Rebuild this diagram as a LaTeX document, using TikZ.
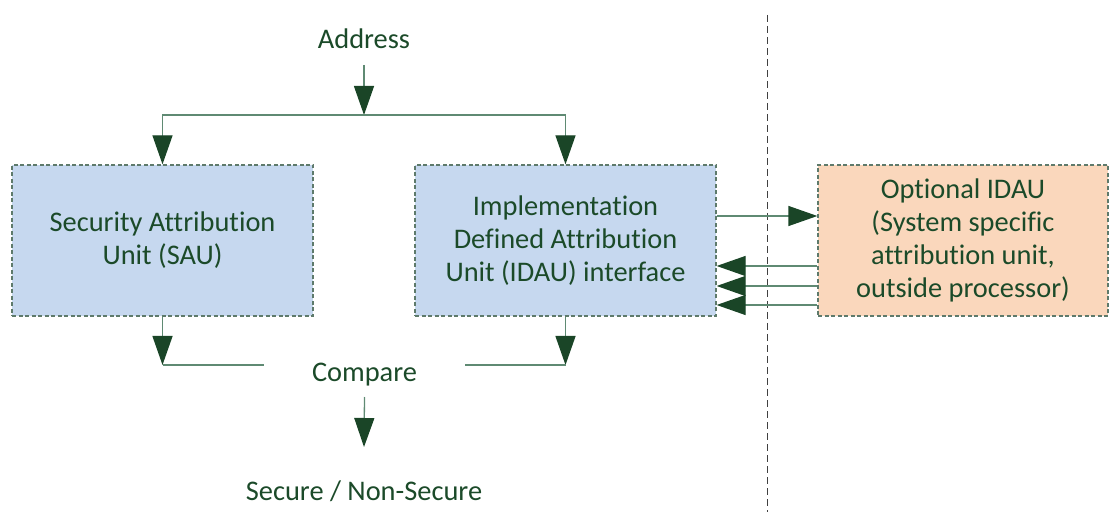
\documentclass[tikz,border=0pt]{standalone}
\usepackage{fontspec}
\setmainfont{Carlito}[Ligatures=NoCommon]
\usetikzlibrary{arrows.meta}
\definecolor{txtgreen}{HTML}{1B4A29}
\definecolor{tipgreen}{HTML}{1A4527}
\definecolor{linegreen}{HTML}{5F8A73}
\definecolor{boxedge}{HTML}{5E7A6B}
\definecolor{saublue}{HTML}{C6D8EF}
\definecolor{idauorange}{HTML}{FAD7BC}
\tikzset{
  lbl/.style={text=txtgreen, font=\fontsize{28.4}{33}\selectfont, inner sep=0pt},
  unitbox/.style={draw=boxedge, line width=1.3pt, dash pattern=on 4pt off 2.5pt,
    minimum height=151pt, align=center, text=txtgreen,
    font=\fontsize{28.4}{33}\selectfont, inner sep=0pt},
  flow/.style={draw=linegreen, line width=1.3pt,
    -{Triangle[length=29pt,width=20pt,color=tipgreen,fill=tipgreen]}},
  plain/.style={draw=linegreen, line width=1.3pt},
  divider/.style={draw=black!75, line width=1pt, dash pattern=on 7pt off 4pt}
}
\begin{document}
\begin{tikzpicture}[x=1pt,y=1pt]
\useasboundingbox (0,0) rectangle (1109,512);

% labels
\node[lbl, anchor=base] (addr) at (364,463) {Address};
\node[lbl, anchor=base] (cmp) at (364.5,131) {Compare};
\node[lbl, anchor=base] (sec) at (364,12) {Secure / Non-Secure};

% attribution units
\node[unitbox, fill=saublue, minimum width=301pt] (sau) at (162.5,271.5)
  {Security Attribution\\Unit (SAU)};
\node[unitbox, fill=saublue, minimum width=301pt] (idau) at (565.5,271.5)
  {Implementation\\Defined Attribution\\Unit (IDAU) interface};
\node[unitbox, fill=idauorange, minimum width=290pt] (opt) at (963,271.5)
  {Optional IDAU\\(System specific\\attribution unit,\\outside processor)};

% processor boundary
\coordinate (divtop) at (767,497);
\coordinate (divbot) at (767,0);
\draw[divider] (divtop) -- (divbot);

% address fan-out
\coordinate (split) at (364,397);
\draw[flow] ([yshift=-16pt]addr.base) -- (split);
\draw[flow] (split) -| (sau.north);
\draw[flow] (split) -| (idau.north);

% results into compare
\coordinate (lc) at (162.5,147);
\coordinate (rc) at (565.5,147);
\draw[flow] (sau.south) -- (lc);
\draw[flow] (idau.south) -- (rc);
\draw[plain] (lc) -- (264,147 |- lc);
\draw[plain] (rc) -- (465,147 |- rc);

% compare to result
\draw[flow] ([yshift=-16pt]cmp.base) -- ([yshift=53pt]sec.base);

% external IDAU interface
\draw[flow] ([yshift=24.5pt]idau.east) -- ([yshift=24.5pt]opt.west);
\draw[flow] ([yshift=-25.5pt]opt.west) -- ([yshift=-25.5pt]idau.east);
\draw[flow] ([yshift=-45.5pt]opt.west) -- ([yshift=-45.5pt]idau.east);
\draw[flow] ([yshift=-64.5pt]opt.west) -- ([yshift=-64.5pt]idau.east);
\end{tikzpicture}
\end{document}
